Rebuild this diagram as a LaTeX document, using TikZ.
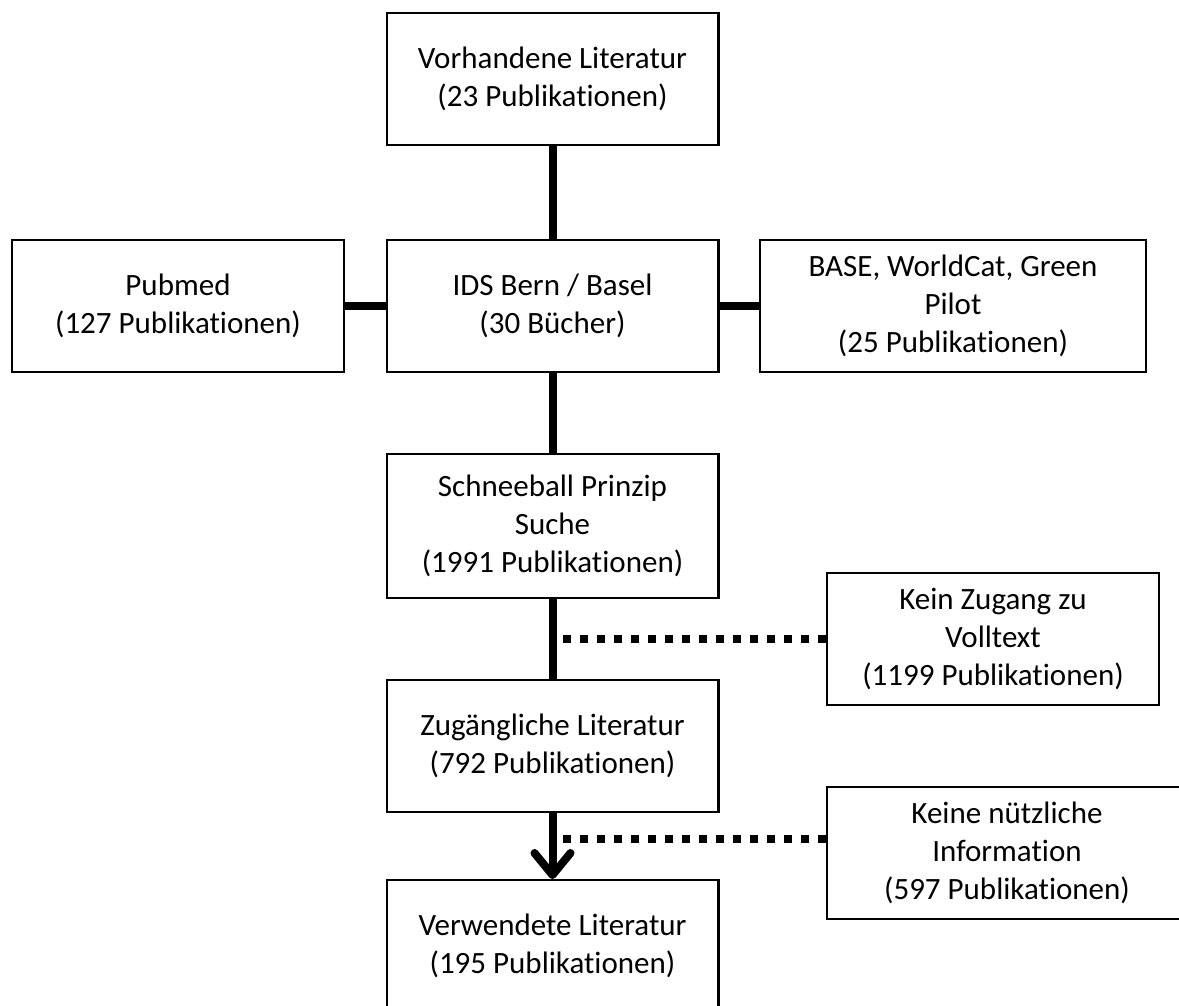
\documentclass[tikz,border=0pt]{standalone}
\usepackage{fontspec}
\setmainfont{Carlito}[Ligatures=NoCommon]
\usetikzlibrary{arrows.meta}

\begin{document}
\begin{tikzpicture}[
  x=1pt,y=-1pt,
  box/.style={draw,line width=2.4pt,align=center,inner sep=0pt,
    minimum width=331.6pt,minimum height=131.6pt,font=\fontsize{31}{38}\selectfont},
  link/.style={line width=8pt},
  flow/.style={link,-{Straight Barb[length=22pt,width=36pt,round]}},
  miss/.style={line width=8pt,dash pattern=on 8pt off 9pt}
]
\useasboundingbox (0,0) rectangle (1179,1006);
\node[box] (V) at (552.5,79) {Vorhandene Literatur\\(23 Publikationen)};
\node[box] (P) at (178,306) {Pubmed\\(127 Publikationen)};
\node[box] (I) at (552.5,306) {IDS Bern / Basel\\(30 Bücher)};
\node[box,minimum width=385.6pt] (B) at (953,306) {BASE, WorldCat, Green\\Pilot\\(25 Publikationen)};
\node[box,minimum height=143.6pt] (S) at (552.5,526) {Schneeball Prinzip\\Suche\\(1991 Publikationen)};
\node[box] (K) at (993,639) {Kein Zugang zu\\Volltext\\(1199 Publikationen)};
\node[box] (Z) at (552.5,746) {Zugängliche Literatur\\(792 Publikationen)};
\node[box,minimum width=359.6pt] (N) at (1007,853) {Keine nützliche\\Information\\(597 Publikationen)};
\node[box] (L) at (552.5,946) {Verwendete Literatur\\(195 Publikationen)};
\coordinate (d1) at (563,639);
\coordinate (d2) at (563,839);
\draw[link] (V) -- (I);
\draw[link] (P) -- (I);
\draw[link] (I) -- (B);
\draw[link] (I) -- (S);
\draw[link] (S) -- (Z);
\draw[flow] (Z) -- (L);
\draw[miss] (d1) -- (K.west);
\draw[miss] (d2) -- (d2 -| N.west);
\end{tikzpicture}
\end{document}
